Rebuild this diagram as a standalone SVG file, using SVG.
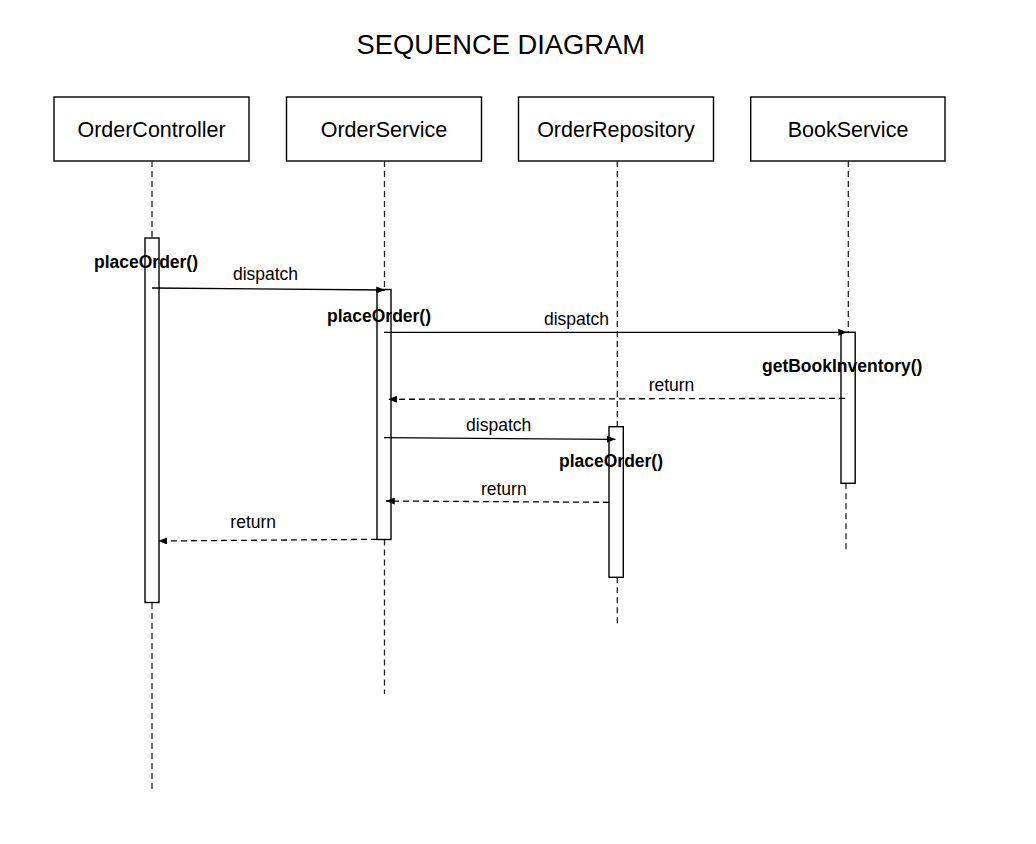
<svg xmlns="http://www.w3.org/2000/svg" width="1036" height="844" viewBox="0 0 1036 844">
<style>
text{font-family:"Liberation Sans",Arial,sans-serif;fill:#000}
.title{font-size:27px}
.name{font-size:21.5px;text-anchor:middle}
.meth{font-size:17.5px;font-weight:bold;text-anchor:middle}
.lbl{font-size:17.5px;text-anchor:middle}
.box{fill:#fff;stroke:#000;stroke-width:1.4}
.act{fill:#fff;stroke:#000;stroke-width:1.4}
.life{fill:none;stroke:#222;stroke-width:1.3;stroke-dasharray:6,4}
.call{fill:none;stroke:#000;stroke-width:1.3;marker-end:url(#ah)}
.ret{fill:none;stroke:#000;stroke-width:1.3;stroke-dasharray:6,4;marker-end:url(#ah)}
</style>
<defs>
<marker id="ah" viewBox="0 0 10 8" refX="10" refY="4" markerWidth="9" markerHeight="7" markerUnits="userSpaceOnUse" orient="auto">
<path d="M0,0 L10,4 L0,8 Z" fill="#000"/>
</marker>
</defs>
<rect width="1036" height="844" fill="#fff"/>
<text class="title" x="356.5" y="54" textLength="288.5" lengthAdjust="spacingAndGlyphs">SEQUENCE DIAGRAM</text>

<g id="OrderController">
<rect class="box" x="54" y="97" width="195" height="64"/>
<text class="name" x="151.5" y="137">OrderController</text>
<path class="life" d="M152,161 V238 M152,603 V790"/>
<rect class="act" x="145" y="238" width="14" height="364.5"/>
<text class="meth" x="146" y="268">placeOrder()</text>
</g>

<g id="OrderService">
<rect class="box" x="286.5" y="97" width="195" height="64"/>
<text class="name" x="384" y="137">OrderService</text>
<path class="life" d="M384.5,161 V289.5 M384.5,539.5 V694"/>
<rect class="act" x="377" y="289.5" width="14" height="250"/>
<text class="meth" x="379" y="321.5">placeOrder()</text>
</g>

<g id="OrderRepository">
<rect class="box" x="518.5" y="97" width="195" height="64"/>
<text class="name" x="616" y="137">OrderRepository</text>
<path class="life" d="M617.3,161 V426.7 M617.3,577.3 V625"/>
<rect class="act" x="609" y="426.7" width="14.3" height="150.6"/>
<text class="meth" x="611" y="466.7">placeOrder()</text>
</g>

<g id="BookService">
<rect class="box" x="750.7" y="97" width="194.3" height="64"/>
<text class="name" x="848" y="137">BookService</text>
<path class="life" d="M848.3,161 V332.3 M846,483.3 V552"/>
<rect class="act" x="841" y="332.3" width="14.2" height="151"/>
<text class="meth" x="842.2" y="371.7">getBookInventory()</text>
</g>

<g id="connectors">
<path class="call" d="M152,288 L385,290"/>
<text class="lbl" x="265.5" y="280">dispatch</text>
<path class="call" d="M384,332.3 L847,332.3"/>
<text class="lbl" x="576.5" y="325">dispatch</text>
<path class="ret" d="M845,398.3 L388.3,399.3"/>
<text class="lbl" x="671.5" y="390.5">return</text>
<path class="call" d="M384,437.7 L615.5,439.3"/>
<text class="lbl" x="498.7" y="430.7">dispatch</text>
<path class="ret" d="M609,502.3 L386,501"/>
<text class="lbl" x="503.8" y="495">return</text>
<path class="ret" d="M377,539.3 L158.3,541"/>
<text class="lbl" x="253.2" y="528.3">return</text>
</g>
</svg>
